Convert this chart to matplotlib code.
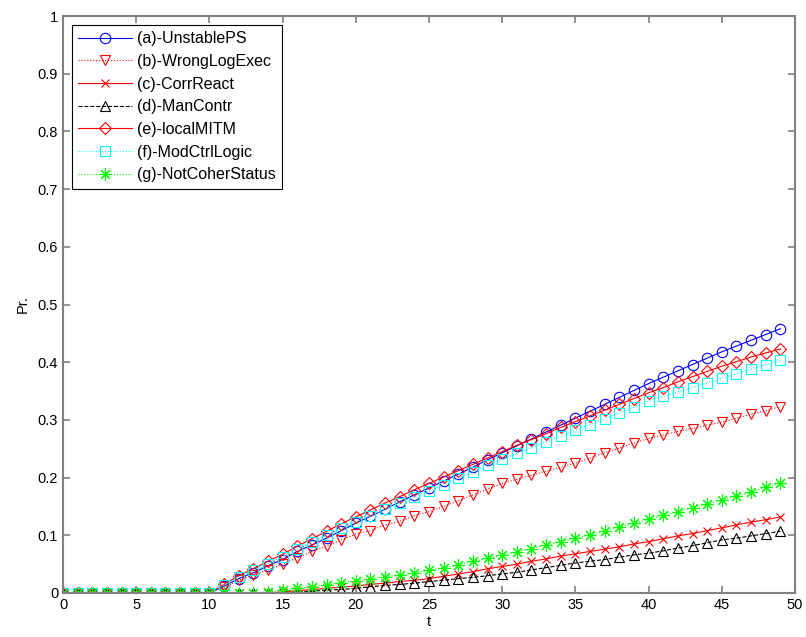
import matplotlib
matplotlib.use("Agg")
import matplotlib.pyplot as plt
import numpy as np

t = list(range(50))
zeros = lambda n: [0.0] * n

unstable_ps = zeros(11) + [0.012, 0.025, 0.035, 0.047, 0.058, 0.072, 0.083, 0.095, 0.108, 0.121,
    0.133, 0.145, 0.158, 0.170, 0.182, 0.194, 0.206, 0.218, 0.231, 0.243,
    0.255, 0.267, 0.279, 0.291, 0.303, 0.315, 0.327, 0.339, 0.351, 0.363,
    0.374, 0.385, 0.396, 0.407, 0.418, 0.428, 0.438, 0.448, 0.458]
wrong_log_exec = zeros(11) + [0.010, 0.022, 0.031, 0.040, 0.050, 0.061, 0.072, 0.081, 0.092, 0.102,
    0.108, 0.118, 0.124, 0.134, 0.141, 0.150, 0.160, 0.170, 0.180, 0.190,
    0.197, 0.204, 0.211, 0.218, 0.225, 0.234, 0.243, 0.251, 0.260, 0.268,
    0.274, 0.280, 0.285, 0.291, 0.296, 0.303, 0.310, 0.316, 0.323]
corr_react = zeros(15) + [0.002, 0.004, 0.006, 0.008, 0.010, 0.012, 0.015, 0.017, 0.020, 0.022,
    0.025, 0.029, 0.033, 0.037, 0.042, 0.046, 0.050, 0.055, 0.059, 0.064,
    0.068, 0.072, 0.076, 0.080, 0.085, 0.089, 0.094, 0.099, 0.103, 0.108,
    0.113, 0.118, 0.123, 0.127, 0.132]
man_contr = zeros(16) + [0.002, 0.003, 0.005, 0.006, 0.008, 0.011, 0.013, 0.015, 0.017, 0.020,
    0.022, 0.025, 0.027, 0.030, 0.033, 0.036, 0.040, 0.044, 0.048, 0.052,
    0.055, 0.058, 0.062, 0.066, 0.069, 0.073, 0.078, 0.082, 0.087, 0.092,
    0.095, 0.099, 0.103, 0.107]
local_mitm = zeros(11) + [0.015, 0.030, 0.042, 0.055, 0.067, 0.081, 0.094, 0.107, 0.120, 0.132,
    0.144, 0.156, 0.167, 0.179, 0.190, 0.201, 0.212, 0.223, 0.234, 0.245,
    0.256, 0.266, 0.276, 0.287, 0.297, 0.307, 0.317, 0.327, 0.337, 0.347,
    0.356, 0.366, 0.375, 0.384, 0.393, 0.401, 0.409, 0.416, 0.423]
mod_ctrl_logic = zeros(11) + [0.014, 0.028, 0.039, 0.051, 0.063, 0.076, 0.088, 0.100, 0.112, 0.123,
    0.134, 0.145, 0.156, 0.167, 0.177, 0.188, 0.199, 0.210, 0.221, 0.232,
    0.242, 0.252, 0.262, 0.272, 0.282, 0.292, 0.302, 0.312, 0.322, 0.333,
    0.341, 0.349, 0.356, 0.364, 0.372, 0.380, 0.388, 0.396, 0.403]
not_coher_status = zeros(14) + [0.002, 0.005, 0.008, 0.011, 0.014, 0.018, 0.021, 0.024, 0.028, 0.031,
    0.035, 0.039, 0.044, 0.049, 0.055, 0.060, 0.066, 0.071, 0.077, 0.083,
    0.089, 0.095, 0.101, 0.108, 0.115, 0.121, 0.128, 0.135, 0.141, 0.148,
    0.154, 0.161, 0.168, 0.175, 0.183, 0.191]

labels = ["(a)-UnstablePS", "(b)-WrongLogExec", "(c)-CorrReact", "(d)-ManContr",
          "(e)-localMITM", "(f)-ModCtrlLogic", "(g)-NotCoherStatus"]

plt.rcParams['font.family'] = ['Liberation Sans', 'DejaVu Sans']

fig = plt.figure(figsize=(8.06, 6.37), dpi=100)
ax = fig.add_axes([63/806, 44/637, 732/806, 577/637])

lw = 0.8
ms = 7
ax.plot(t, unstable_ps, color='blue', linestyle='-', marker='o', mfc='none', lw=lw, ms=7.5, mew=0.8, label=labels[0])
ax.plot(t, wrong_log_exec, color='red', linestyle=':', marker='v', mfc='none', lw=lw, ms=ms, mew=0.8, label=labels[1])
ax.plot(t, corr_react, color='red', linestyle='-', marker='x', mfc='none', lw=lw, ms=6, mew=0.8, label=labels[2])
ax.plot(t, man_contr, color='black', linestyle='--', marker='^', mfc='none', lw=lw, ms=ms, mew=0.8, label=labels[3])
ax.plot(t, local_mitm, color='red', linestyle='-', marker='D', mfc='none', lw=lw, ms=6.3, mew=0.8, label=labels[4])
ax.plot(t, mod_ctrl_logic, color='cyan', linestyle=':', marker='s', mfc='none', lw=lw, ms=6.5, mew=0.8, label=labels[5])
ax.plot(t, not_coher_status, color='#00ff00', linestyle=':', marker=(8, 2, 0), mfc='none', lw=lw, ms=9, mew=0.8, label=labels[6])

ax.set_xlim(0, 50)
ax.set_ylim(0, 1)
ax.set_xticks(np.arange(0, 51, 5))
ax.set_yticks(np.arange(0, 1.01, 0.1))
ax.set_yticklabels(['0', '0.1', '0.2', '0.3', '0.4', '0.5', '0.6', '0.7', '0.8', '0.9', '1'])
ax.tick_params(direction='in', top=True, right=True, labelsize=10.5, length=5,
               color='#808080', width=1.2)
for s in ['top', 'right', 'bottom', 'left']:
    ax.spines[s].set_color('#808080')
    ax.spines[s].set_linewidth(1.5)

ax.set_xlabel('t', fontsize=10.5, labelpad=2)
ax.set_ylabel('Pr.', fontsize=10.5, labelpad=6)

leg = ax.legend(loc='upper left', numpoints=1, fontsize=11.5, handlelength=3.4,
                labelspacing=0.48, fancybox=False, edgecolor='black',
                borderaxespad=0.55, borderpad=0.4, handletextpad=0.3, framealpha=1)
leg.get_frame().set_linewidth(0.8)

fig.savefig('out.png', dpi=100)
